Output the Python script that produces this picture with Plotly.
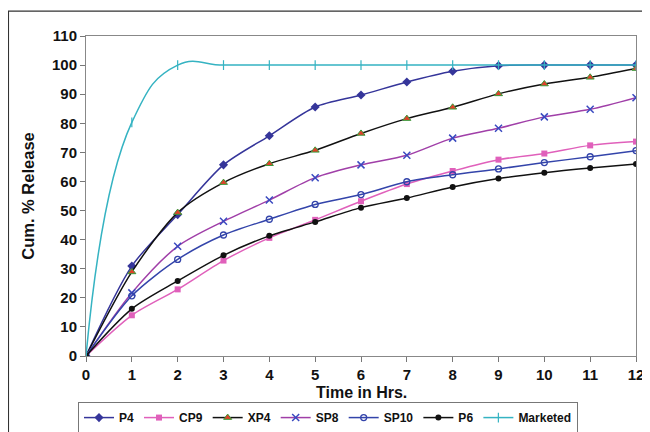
import plotly.graph_objects as go

time_hrs = [0, 1, 2, 3, 4, 5, 6, 7, 8, 9, 10, 11, 12]
p4 = [0, 30.9, 48.6, 65.7, 75.7, 85.6, 89.7, 94.2, 97.9, 99.8, 100, 100, 100]
cp9 = [0, 14.0, 22.9, 32.8, 40.6, 46.8, 53.2, 59.1, 63.6, 67.5, 69.6, 72.4, 73.7]
xp4 = [0, 28.9, 49.3, 59.6, 66.1, 70.7, 76.5, 81.6, 85.5, 90.1, 93.5, 95.8, 98.8]
sp8 = [0, 21.7, 37.7, 46.3, 53.6, 61.3, 65.7, 69.0, 74.9, 78.3, 82.2, 84.8, 88.8]
sp10 = [0, 20.7, 33.2, 41.6, 47.0, 52.1, 55.5, 59.9, 62.3, 64.3, 66.5, 68.5, 70.6]
p6 = [0, 16.2, 25.8, 34.6, 41.3, 46.1, 51.0, 54.3, 58.1, 61.0, 63.0, 64.6, 66.0]
marketed = [0, 80.3, 100, 100, 100, 100, 100, 100, 100, 100, 100, 100, 100]

FONT = "Liberation Sans, Arial, sans-serif"

series = [
    ("P4", p4, "#35359a", dict(symbol="diamond", size=7, color="#35359a"), 0.8),
    ("CP9", cp9, "#e060bb", dict(symbol="square", size=6, color="#e060bb"), 0.8),
    ("XP4", xp4, "#111111", dict(symbol="triangle-up", size=7, color="#e0402a",
                                 line=dict(color="#3a9a3a", width=1)), 0.8),
    ("SP8", sp8, "#a03fa8", dict(symbol="x-thin", size=7, color="#3a4ac0",
                                 line=dict(color="#3a4ac0", width=1.5)), 0.8),
    ("SP10", sp10, "#3344aa", dict(symbol="circle-open", size=6, color="#3344aa",
                                   line=dict(width=1.3)), 0.8),
    ("P6", p6, "#111111", dict(symbol="circle", size=6, color="#111111"), 0.8),
    ("Marketed", marketed, "#35b3c2", dict(symbol="line-ns-open", size=7, color="#35b3c2",
                                           line=dict(color="#35b3c2", width=1.2)), 1.3),
]

fig = go.Figure()
for name, ys, lc, mk, sm in series:
    fig.add_trace(go.Scatter(
        x=time_hrs, y=ys, name=name, mode="lines+markers",
        line=dict(color=lc, width=1.5, shape="spline", smoothing=sm),
        marker=mk,
    ))

# page body has an 8px default margin: figure sized 642x424 so it fills the window
fig.update_layout(
    width=642, height=424,
    margin=dict(l=78, r=14, t=28, b=76, autoexpand=False),
    paper_bgcolor="white", plot_bgcolor="white",
    font=dict(family=FONT, color="#111111"),
    showlegend=True,
    legend=dict(
        orientation="h", x=0.44, xanchor="center", y=-0.144, yanchor="top",
        bordercolor="#777777", borderwidth=1,
        font=dict(family=FONT, size=12, color="#111111", weight="bold"),
        itemwidth=30, tracegroupgap=0,
    ),
    xaxis=dict(
        range=[0, 12], tickmode="array", tickvals=time_hrs,
        ticks="outside", ticklen=5, tickcolor="#777777",
        showline=True, linecolor="#888888", linewidth=1, mirror=True,
        showgrid=False, zeroline=False, automargin=False,
        tickfont=dict(family=FONT, size=15, color="#111111", weight="bold"),
    ),
    yaxis=dict(
        range=[0, 110], tickmode="linear", tick0=0, dtick=10,
        ticks="outside", ticklen=5, tickcolor="#777777",
        showline=True, linecolor="#888888", linewidth=1, mirror=True,
        showgrid=False, zeroline=False, automargin=False,
        tickfont=dict(family=FONT, size=15, color="#111111", weight="bold"),
        title=dict(text="Cum. % Release", standoff=13,
                   font=dict(family=FONT, size=16.5, color="#111111", weight="bold")),
    ),
)

fig.add_annotation(
    text="Time in Hrs.", xref="paper", yref="paper", x=0.5, y=-0.1125,
    xanchor="center", yanchor="middle", showarrow=False,
    font=dict(family=FONT, size=16, color="#111111", weight="bold"),
)

fig.add_shape(
    type="rect", xref="paper", yref="paper",
    x0=-0.141, y0=-0.3, x1=1.06, y1=1.078,
    line=dict(color="#333333", width=1.2), fillcolor="rgba(0,0,0,0)", layer="below",
)

fig.write_html("out.html")
